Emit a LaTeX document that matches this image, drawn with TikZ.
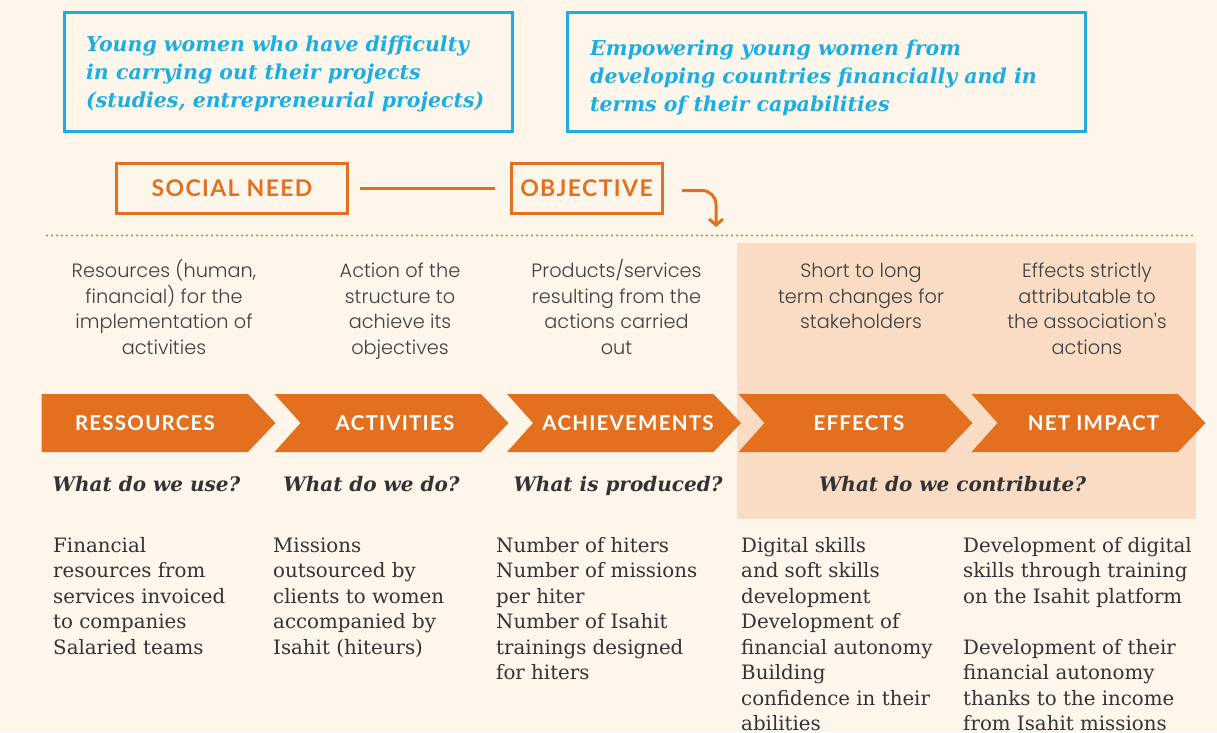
\documentclass[tikz,border=0pt]{standalone}
\usepackage{fontspec}
\usetikzlibrary{arrows.meta}
\newfontfamily\slabfont{DejaVu Serif}
\newfontfamily\geofont{Poppins Light}
\newfontfamily\headfont{Lato}[LetterSpace=6]
\definecolor{bgcream}{HTML}{FEF6EA}
\definecolor{orng}{HTML}{E3701E}
\definecolor{skyblue}{HTML}{1BAEE3}
\definecolor{peach}{HTML}{F9DCC3}
\definecolor{darktxt}{HTML}{333333}
\definecolor{desctxt}{HTML}{3F3F3F}
\tikzset{
  bluebox/.style={draw=skyblue, line width=3pt},
  bluetext/.style={anchor=base west, inner sep=0pt, align=left, text=skyblue,
    font=\slabfont\bfseries\itshape\fontsize{20.5}{28}\selectfont},
  orangebox/.style={draw=orng, line width=3pt, text=orng, minimum height=50pt,
    inner sep=0pt, font=\headfont\bfseries\fontsize{23}{26}\selectfont},
  chevlabel/.style={text=white, inner sep=0pt, font=\headfont\bfseries\fontsize{20.5}{24}\selectfont},
  question/.style={anchor=base, inner sep=0pt, text=darktxt,
    font=\slabfont\bfseries\itshape\fontsize{20}{24}\selectfont},
  desc/.style={anchor=base, inner sep=0pt, align=center, text=desctxt,
    font=\geofont\fontsize{19.3}{25.7}\selectfont},
  bodytext/.style={anchor=base west, inner sep=0pt, align=left, text=darktxt,
    font=\slabfont\fontsize{19.8}{25.5}\selectfont},
  chev/.style={fill=orng}
}
\begin{document}
\begin{tikzpicture}[x=1pt,y=-1pt]
\useasboundingbox (0,0) rectangle (1217,732);
\fill[bgcream] (0,0) rectangle (1217,732);
% peach area
\fill[peach] (737,243) rectangle (1196,519);
% blue boxes
\draw[bluebox] (64,12) rectangle (512,131);
\draw[bluebox] (567,12) rectangle (1085,131);
% multi-line nodes: base anchor = baseline of the last line
\node[bluetext] (need) at (86,107.5) {Young women who have difficulty\\in carrying out their projects\\(studies, entrepreneurial projects)};
\node[bluetext] (obtext) at (590,111) {Empowering young women from\\developing countries financially and in\\terms of their capabilities};
% orange boxes
\node[orangebox, minimum width=231pt] (sn) at (232,188) {SOCIAL NEED};
\node[orangebox, minimum width=151pt] (obj) at (586.5,188) {OBJECTIVE};
\draw[orng, line width=3pt, shorten <=11pt, shorten >=15pt] (sn) -- (obj);
\coordinate (arrowstart) at (682,190.5);
\coordinate (arrowend) at (716,227);
\draw[orng, line width=3pt, rounded corners=14pt, -{Straight Barb[length=6pt,width=14pt,line width=3pt]}] (arrowstart) -| (arrowend);
% dotted line
\coordinate (dotL) at (47,235.5);
\coordinate (dotR) at (1196,235.5);
\draw[orng, line width=2.2pt, line cap=round, dash pattern=on 0pt off 5pt] (dotL) -- (dotR);
% descriptions
\node[desc] (d1) at (164,354.6) {Resources (human,\\financial) for the\\implementation of\\activities};
\node[desc] (d2) at (400,354.6) {Action of the\\structure to\\achieve its\\objectives};
\node[desc] (d3) at (616.5,354.6) {Products/services\\resulting from the\\actions carried\\out};
\node[desc] (d4) at (861,328.9) {Short to long\\term changes for\\stakeholders};
\node[desc] (d5) at (1087,354.6) {Effects strictly\\attributable to\\the association's\\actions};
% chevrons
\fill[chev] (41.5,394) -- (248,394) -- (275.5,423) -- (248,452) -- (41.5,452) -- cycle;
\foreach \s in {274.5,507,738.5,971.5}{
  \fill[chev] (\s,394) -- (\s+206.5,394) -- (\s+234,423) -- (\s+206.5,452) -- (\s,452) -- (\s+26,423) -- cycle;
}
\node[chevlabel] (c1) at (145,423) {RESSOURCES};
\node[chevlabel] (c2) at (395,423) {ACTIVITIES};
\node[chevlabel] (c3) at (628,423) {ACHIEVEMENTS};
\node[chevlabel] (c4) at (859,423) {EFFECTS};
\node[chevlabel] (c5) at (1093.5,423) {NET IMPACT};
% questions
\node[question] (q1) at (146.5,491) {What do we use?};
\node[question] (q2) at (371.5,491) {What do we do?};
\node[question] (q3) at (618,491) {What is produced?};
\node[question] (q4) at (952.5,491) {What do we contribute?};
% body texts
\node[bodytext] (b1) at (53,654) {Financial\\resources from\\services invoiced\\to companies\\Salaried teams};
\node[bodytext] (b2) at (273,654) {Missions\\outsourced by\\clients to women\\accompanied by\\Isahit (hiteurs)};
\node[bodytext] (b3) at (496,679.5) {Number of hiters\\Number of missions\\per hiter\\Number of Isahit\\trainings designed\\for hiters};
\node[bodytext] (b4) at (741,730.5) {Digital skills\\and soft skills\\development\\Development of\\financial autonomy\\Building\\confidence in their\\abilities};
\node[bodytext] (b5) at (963,730.5) {Development of digital\\skills through training\\on the Isahit platform\\[25.5pt]Development of their\\financial autonomy\\thanks to the income\\from Isahit missions};
\end{tikzpicture}
\end{document}
